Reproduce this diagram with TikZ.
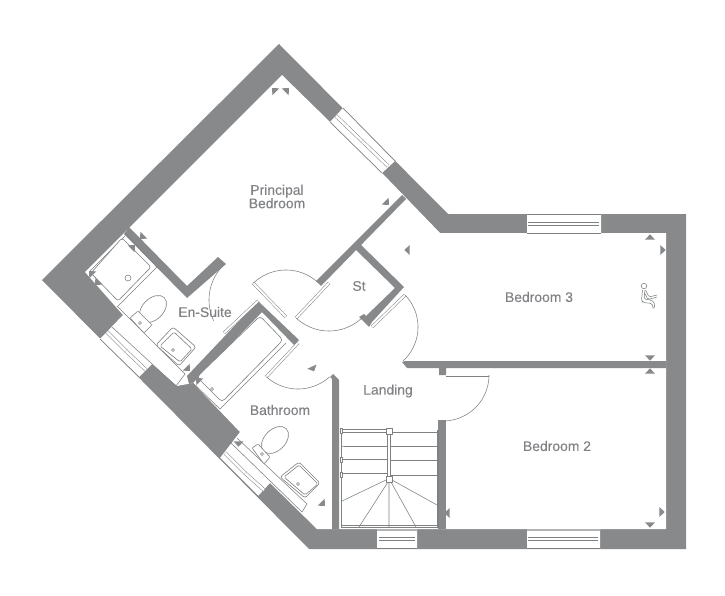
\documentclass[tikz,border=0pt]{standalone}
\usepackage{fontspec}
\setmainfont{Liberation Sans}
\newfontfamily\roomfont[FakeBold=0.18]{Liberation Sans}
\definecolor{wallc}{HTML}{87898B}
\definecolor{linec}{HTML}{7E8082}
\definecolor{textc}{HTML}{808285}
\tikzset{
  wall/.style={fill=wallc,draw=none},
  thinl/.style={draw=linec,line width=.55pt},
  fixture/.style={draw=linec,line width=.6pt,fill=white,rounded corners=2.5pt,line join=round},
  leaf/.style={draw=linec,line width=.5pt,double=white,double distance=2pt},
  sash/.style={draw=linec,line width=.5pt,double=white,double distance=2.6pt},
  frameedge/.style={draw=linec,line width=.7pt},
  softedge/.style={draw=linec!60,line width=1.4pt},
  room/.style={text=textc,font=\roomfont\fontsize{13.9}{13.4}\selectfont,align=center,inner sep=0pt}
}
\def\darc#1#2#3#4#5{\draw[thinl] plot[domain=#4:#5,samples=40,variable=\t] ({#1+#3*cos(\t)},{#2+#3*sin(\t)});}
\def\tri#1#2#3{\fill[wallc,shift={(#1,#2)},rotate=#3] (2.6,0)--(-2.6,5)--(-2.6,-5)--cycle;}
\begin{document}
\begin{tikzpicture}[x=1pt,y=-1pt]
\useasboundingbox (0,0) rectangle (725,596);
% outer mass
\fill[wallc] (279,44)--(448,214)--(686,214)--(686,549)--(309,549)--(42,280)--cycle;
% interior, with window openings
\fill[white] (282,75)--(330,122)--(343,108)--(395,161)--(382,173)--(440,233)--(527,233)--(527,214)--(601,214)--(601,233)--(666,233)--(666,529)--(600,529)--(600,549)--(527,549)--(527,529)--(417,529)--(417,549)--(377,549)--(377,529)--(317,529)--(270,483)--(258,496)--(220,458)--(240,432)--(193,383)--(177,386)--(152,364)--(139,377)--(100,339)--(123,315)--(85,272)--cycle;
% partition walls
\fill[wall] (129,227)--(187,286)--(218,257)--(226,264)--(187,298)--(124,234)--cycle;
\fill[wall] (187,376)--(258,301)--(299,340)--(294,345)--(262,312)--(193,383)--(189,384)--cycle;
\fill[wall] (402,195)--(406,199)--(321,286)--(316,281)--cycle;
\fill[wall] (359,243)--(404,287)--(372,322)--(369,327)--(359,317)--(364,314)--(366,316)--(395,288)--(355,249)--cycle;
\fill[wall] (402,362)--(405,361)--(666,361)--(666,368)--(446,368)--(446,375)--(439,375)--(439,368)--(407,368)--cycle;
\fill[wall] (438,420)--(446,420)--(446,529)--(438,529)--cycle;
\fill[wall] (330,377)--(333,374)--(339,380)--(339,529)--(332,529)--(332,379)--cycle;
% diagonal windows
\draw[frameedge] (330,122)--(382,173) (343,108)--(395,161);
\draw[sash] (336,116)--(362,141); \draw[sash] (362,141)--(388,166);
\draw[frameedge] (100,339)--(139,377);
\draw[sash] (107,332)--(126,351); \draw[sash] (126,351)--(146,370);
\draw[frameedge] (220,458)--(258,496);
\draw[sash] (225,453)--(245,473); \draw[sash] (245,473)--(264,490);
% straight windows
\draw[frameedge] (527,214)--(601,214) (527,233)--(601,233);
\draw[sash] (528,224)--(563,224); \draw[sash] (563,224)--(599,224);
\draw[softedge] (527,530)--(600,530);
\draw[frameedge] (527,548.6)--(600,548.6);
\draw[sash] (528,539)--(563,539); \draw[sash] (563,539)--(598,539);
\draw[softedge] (377,530)--(417,530);
\draw[frameedge] (377,548.6)--(417,548.6);
\draw[sash] (379,539)--(415,539);
% boxing lines
\draw[thinl] (118,307)--(185,374)--(176,386) (112,327)--(176,386);
\draw[thinl] (237,438)--(307,504)--(302,512)--(230,442);
% shower
\draw[thinl] (125,233)--(157,267)--(117,307);
\draw[thinl] (90,271)--(125,236);
\draw[fixture] (122,238)--(151,267)--(118,301)--(91,273)--cycle;
\draw[thinl] (128,278) circle (3);
% en-suite toilet and basin
\draw[fixture,rotate around={45:(153,309)}] (153,309) ellipse (16pt and 10.5pt);
\draw[fixture,rounded corners=1pt] (130,318)--(138,311)--(152,325)--(144,333)--cycle;
\draw[thinl] (140,323) circle (1.5);
\draw[fixture] (156,345)--(173,327)--(196,347)--(179,366)--cycle;
\draw[fixture,rounded corners=1.5pt] (160,346)--(174,332)--(192,349)--(180,362)--cycle;
\draw[thinl] (173,350) circle (1.6);
% bath
\draw[thinl] (193,383)--(220,409)--(286,343);
\draw[fixture,rounded corners=3.5pt] (197,377)--(222,402)--(283,340)--(260,316)--cycle;
\draw[thinl] (212,389) circle (1.5);
% bathroom toilet and basin
\draw[fixture,rotate around={45:(275,440)}] (275,440) ellipse (16pt and 10.5pt);
\draw[fixture,rounded corners=1pt] (252,448)--(258,444)--(270,457)--(264,464)--cycle;
\draw[thinl] (262,454) circle (1.5);
\draw[fixture] (280,477)--(299,462)--(320,483)--(305,498)--cycle;
\draw[fixture,rounded corners=1.5pt] (284,477)--(299,465)--(318,484)--(305,495)--cycle;
\draw[thinl] (298,484) circle (1.6);
% door leaves
\draw[leaf] (224,333)--(258,301);
\darc{258}{300}{49}{-133}{-205}
\draw[leaf] (253,283)--(286,317);
\darc{286}{317}{47}{-134}{-47}
\draw[leaf] (329,283)--(296,318);
\darc{329}{283}{48}{133}{45}
\draw[leaf] (405,295)--(372,327);
\darc{372}{327}{46}{-44}{47}
\draw[leaf] (298,343)--(266,377);
\darc{298}{342}{47}{132}{48}
\draw[leaf] (446,375)--(489,375);
\darc{443}{375}{46}{0}{90}
% stairs
\draw[thinl] (341,430)--(341,527)--(438,527)--(438,430);
\draw[thinl] (341,525.5)--(438,525.5) (436.8,430)--(436.8,527);
\draw[thinl] (341,429.5)--(386,429.5) (341,432.5)--(386,432.5) (392,432)--(438,432);
\draw[thinl] (344,446)--(387,446) (391,446.5)--(438,446.5);
\draw[thinl] (341,459)--(387,459) (391,460)--(438,460);
\draw[thinl] (341,473)--(387,473) (391,475)--(438,475);
\draw[thinl] (341,450) .. controls (341,447) and (342,446) .. (344,446);
\draw[thinl] (387.5,434)--(387.5,476) (390.5,434)--(390.5,476);
\draw[fixture,rounded corners=0pt] (386,428)rectangle(392,434);
\draw[fixture,rounded corners=0pt] (386,476)rectangle(392,482);
\draw[fixture,rounded corners=0pt] (340,428.5)rectangle(342.5,433.5);
\draw[fixture,rounded corners=0pt] (340,457)rectangle(342.5,462);
\draw[fixture,rounded corners=0pt] (340,472)rectangle(342.5,477);
\draw[thinl] (386,480)--(342,501) (388,482)--(359,527) (389,482)--(389,527) (391,482)--(416,527) (392,480)--(437,505);
% socket marks
\tri{274}{90}{135}\tri{287}{90}{45}\tri{387}{203}{-45}
\tri{142}{237}{-135}\tri{133}{247}{45}\tri{91}{273}{135}\tri{97}{283}{-135}
\tri{188}{369}{-45}\tri{198}{380}{135}
\tri{407}{250}{180}\tri{313}{369}{-65}
\tri{238.5}{444}{-90}\tri{323}{504}{-45}
\tri{447}{513}{180}\tri{662}{512}{0}\tri{650}{525}{-90}
\tri{650}{237}{90}\tri{663}{250}{0}\tri{650}{358}{-90}\tri{650}{371}{90}
% person icon
\draw[thinl] (644,286) circle (2.8);
\draw[thinl,rounded corners=1.5pt] (642.5,290)--(641.5,300)--(643,302.5)--(652,303.5)--(653,308);
\draw[thinl,rounded corners=1.5pt] (645,290)--(644,299)--(651,300)--(654,302)--(655,308)--(653,308);
\draw[thinl,rounded corners=1.5pt] (645.5,290)--(649,297)--(657,295);
\draw[thinl,rounded corners=1.5pt] (644.5,293)--(648,299.5)--(657,297);
% labels
\node[room] (principal) at (277,196.5) {Principal\\Bedroom};
\node[room] (ensuite) at (205,312) {En-Suite};
\node[room] (st) at (359,286) {St};
\node[room] (bed3) at (539,297) {Bedroom 3};
\node[room] (bed2) at (557,446) {Bedroom 2};
\node[room] (landing) at (388,391) {Landing};
\node[room] (bathroom) at (280,410) {Bathroom};
\end{tikzpicture}
\end{document}
